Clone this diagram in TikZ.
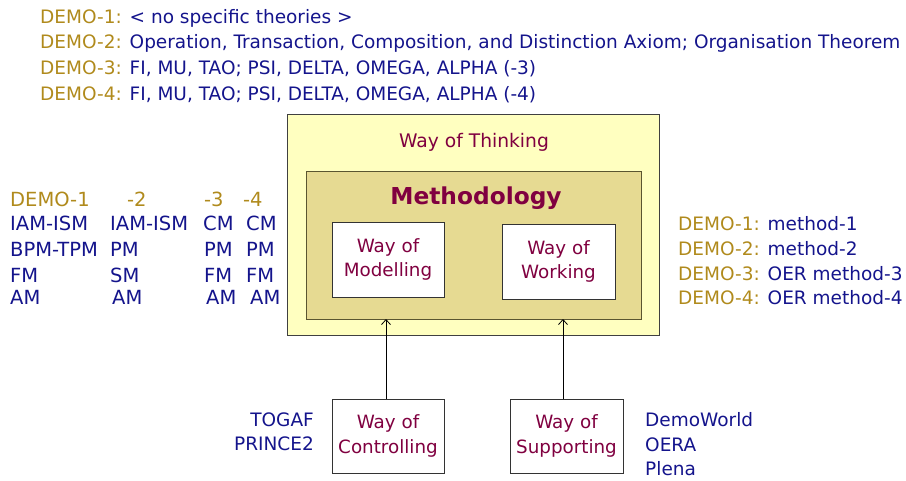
\documentclass[tikz,border=0pt]{standalone}
\usepackage{fontspec}
\setmainfont{DejaVu Sans}
\usetikzlibrary{arrows.meta}
\definecolor{gold}{HTML}{B08A1C}
\definecolor{navy}{HTML}{14148C}
\definecolor{maroon}{HTML}{800040}
\definecolor{paleyellow}{HTML}{FFFFC0}
\definecolor{khaki}{HTML}{E6DA92}
\definecolor{olive}{HTML}{5A5530}
\tikzset{
  toptxt/.style={anchor=west,inner sep=0pt,font=\fontsize{18.5}{20}\selectfont,text height=13.5pt,text depth=4pt},
  tabtxt/.style={anchor=west,inner sep=0pt,font=\fontsize{18.5}{20}\selectfont,text height=13.5pt,text depth=4pt,text=navy},
  lefttxt/.style={tabtxt,font=\fontsize{19.5}{21}\selectfont},
  wbox/.style={draw=black!80,fill=white,line width=0.8pt,align=center,text=maroon,font=\fontsize{18.3}{24.5}\selectfont,inner sep=0pt},
  conn/.style={draw=black,line width=0.8pt,-{Straight Barb[length=5pt,width=9pt]}}
}
\begin{document}
\begin{tikzpicture}[x=1pt,y=-1pt]
\useasboundingbox (0,0) rectangle (906,480);
% top lines
\node[toptxt] (t1) at (40,19) {\textcolor{gold}{DEMO-1:} \textcolor{navy}{< no specific theories >}};
\node[toptxt] (t2) at (40,44) {\textcolor{gold}{DEMO-2:} \textcolor{navy}{Operation, Transaction, Composition, and Distinction Axiom; Organisation Theorem}};
\node[toptxt] (t3) at (40,70) {\textcolor{gold}{DEMO-3:} \textcolor{navy}{FI, MU, TAO; PSI, DELTA, OMEGA, ALPHA (-3)}};
\node[toptxt] (t4) at (40,96) {\textcolor{gold}{DEMO-4:} \textcolor{navy}{FI, MU, TAO; PSI, DELTA, OMEGA, ALPHA (-4)}};
% outer box
\draw[fill=paleyellow,draw=black!75,line width=0.8pt] (287,114) rectangle (659,335);
\node[text=maroon,font=\fontsize{18.7}{20}\selectfont] (wot) at (474,142) {Way of Thinking};
\draw[fill=khaki,draw=olive,line width=0.8pt] (306,171) rectangle (641,319);
\coordinate (methbot1) at (386,319);
\coordinate (methbot2) at (563,319);
\node[text=maroon,font=\bfseries\fontsize{23.3}{26}\selectfont] (meth) at (476,198) {Methodology};
\node[wbox,minimum width=112pt,minimum height=75pt] (wom) at (388,259.5) {Way of\\Modelling};
\node[wbox,minimum width=113pt,minimum height=75pt] (wow) at (558.5,261.5) {Way of\\Working};
\node[wbox,minimum width=112pt,minimum height=74pt] (woc) at (388,436) {Way of\\Controlling};
\node[wbox,minimum width=113pt,minimum height=74pt] (wos) at (566.5,436) {Way of\\Supporting};
\draw[conn] (woc.north -| methbot1) -- (methbot1);
\draw[conn] (wos.north -| methbot2) -- (methbot2);
% left table
\node[lefttxt,text=gold] (h1) at (10,202) {DEMO-1};
\node[lefttxt,text=gold] (h2) at (127,202) {-2};
\node[lefttxt,text=gold] (h3) at (204,202) {-3};
\node[lefttxt,text=gold] (h4) at (243,202) {-4};
\node[lefttxt] (a1) at (10,226) {IAM-ISM};
\node[lefttxt] (a2) at (110,226) {IAM-ISM};
\node[lefttxt] (a3) at (203,226) {CM};
\node[lefttxt] (a4) at (246,226) {CM};
\node[lefttxt] (b1) at (10,252) {BPM-TPM};
\node[lefttxt] (b2) at (110,252) {PM};
\node[lefttxt] (b3) at (204,252) {PM};
\node[lefttxt] (b4) at (246,252) {PM};
\node[lefttxt] (c1) at (10,278) {FM};
\node[lefttxt] (c2) at (110,278) {SM};
\node[lefttxt] (c3) at (204,278) {FM};
\node[lefttxt] (c4) at (246,278) {FM};
\node[lefttxt] (d1) at (10,300) {AM};
\node[lefttxt] (d2) at (112,300) {AM};
\node[lefttxt] (d3) at (206,300) {AM};
\node[lefttxt] (d4) at (250,300) {AM};
% right list
\node[tabtxt] (r1) at (678,226) {\textcolor{gold}{DEMO-1:} method-1};
\node[tabtxt] (r2) at (678,251) {\textcolor{gold}{DEMO-2:} method-2};
\node[tabtxt] (r3) at (678,276) {\textcolor{gold}{DEMO-3:} OER method-3};
\node[tabtxt] (r4) at (678,300) {\textcolor{gold}{DEMO-4:} OER method-4};
% bottom labels
\node[tabtxt,anchor=east] (tog) at (314,422) {TOGAF};
\node[tabtxt,anchor=east] (pri) at (314,446) {PRINCE2};
\node[tabtxt] (dw) at (645,422) {DemoWorld};
\node[tabtxt] (oera) at (645,447) {OERA};
\node[tabtxt] (plena) at (645,471) {Plena};
\end{tikzpicture}
\end{document}
